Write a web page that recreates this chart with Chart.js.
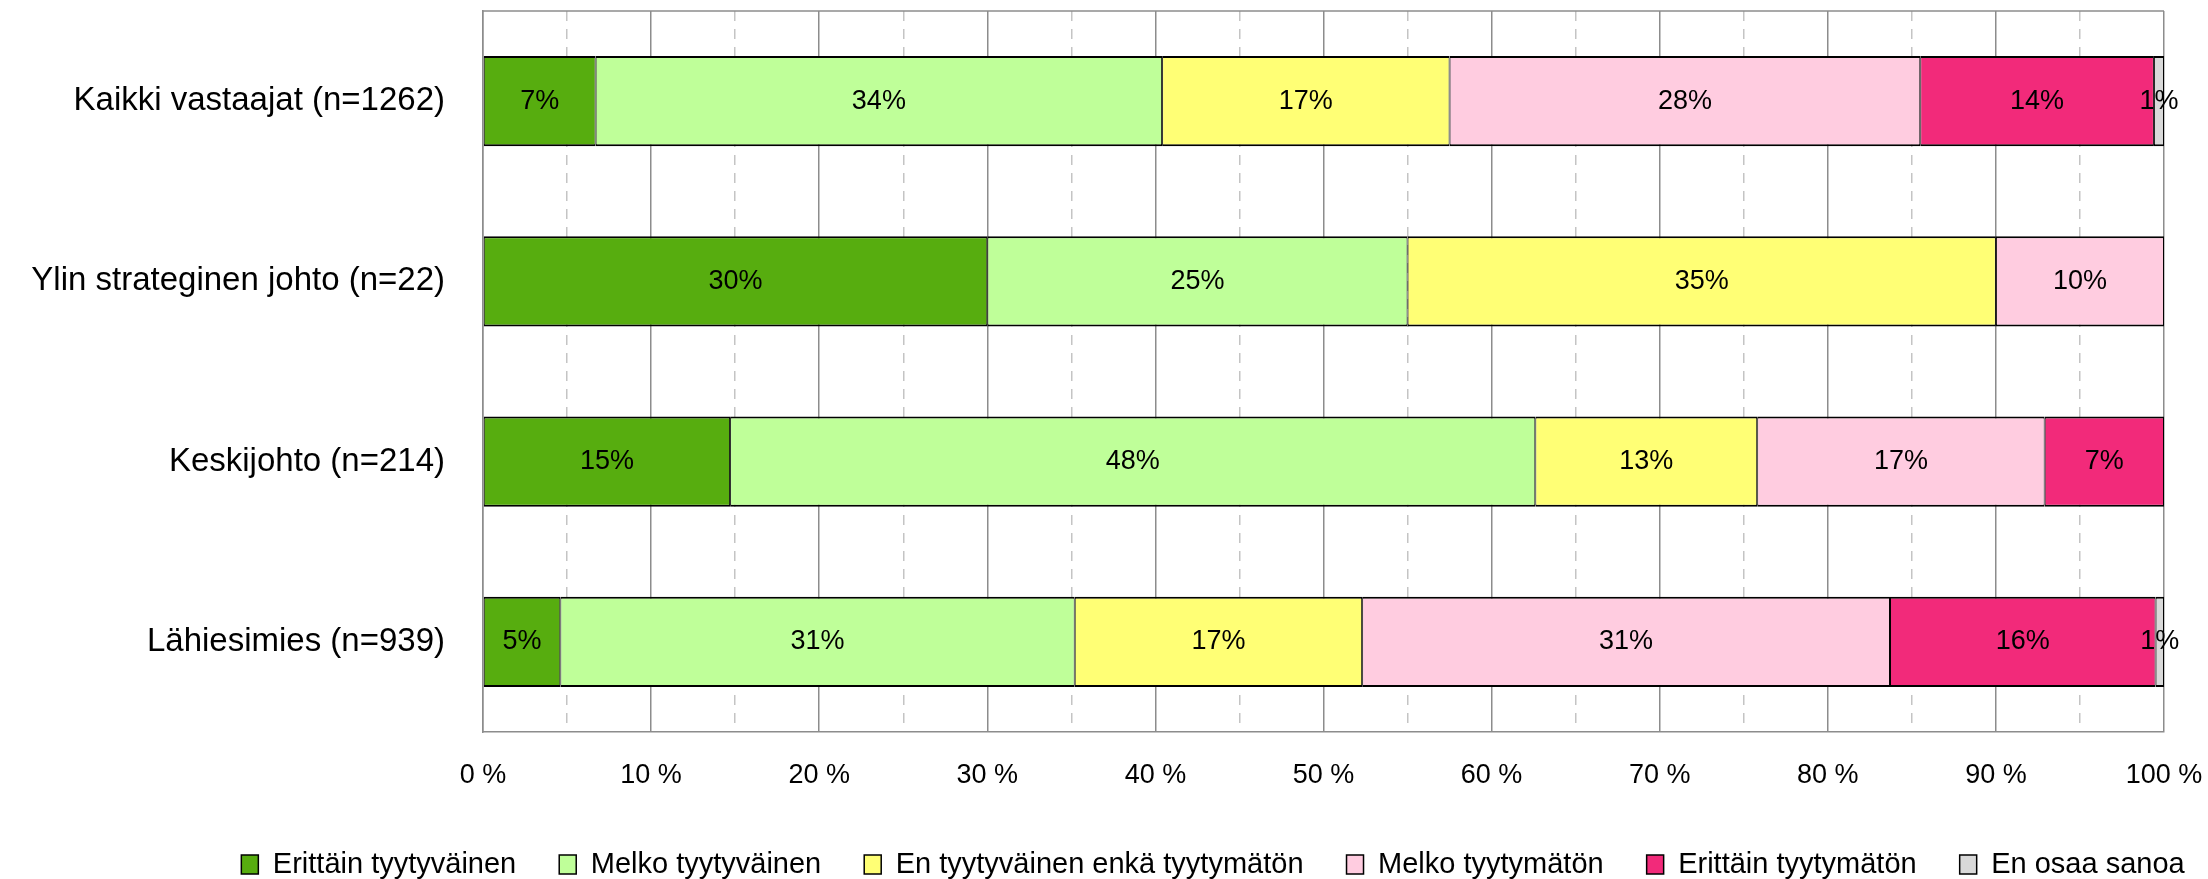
<!DOCTYPE html>
<html>
<head>
<meta charset="utf-8">
<script src="https://cdn.jsdelivr.net/npm/chart.js@4.4.1/dist/chart.umd.min.js"></script>
<style>
  html, body { margin: 0; padding: 0; background: #ffffff; }
  #wrap { width: 2208px; height: 879px; position: relative; }
</style>
</head>
<body>
<div id="wrap"><canvas id="c"></canvas></div>
<script>
// ---- Data ----
const categories = [
  'Kaikki vastaajat (n=1262)',
  'Ylin strateginen johto (n=22)',
  'Keskijohto (n=214)',
  'Lähiesimies (n=939)'
];
const seriesNames = [
  'Erittäin tyytyväinen',
  'Melko tyytyväinen',
  'En tyytyväinen enkä tyytymätön',
  'Melko tyytymätön',
  'Erittäin tyytymätön',
  'En osaa sanoa'
];
const erittainTyytyvainen = [6.7, 30.0, 14.7, 4.6];
const melkoTyytyvainen    = [33.7, 25.0, 47.9, 30.6];
const enTyytyvainenEnka   = [17.1, 35.0, 13.2, 17.1];
const melkoTyytymaton     = [28.0, 10.0, 17.1, 31.4];
const erittainTyytymaton  = [13.9, 0, 7.1, 15.8];
const enOsaaSanoa         = [0.6, 0, 0, 0.5];
const xTickValues = [0, 10, 20, 30, 40, 50, 60, 70, 80, 90, 100];

const seriesValues = [erittainTyytyvainen, melkoTyytyvainen, enTyytyvainenEnka,
                      melkoTyytymaton, erittainTyytymaton, enOsaaSanoa];
const seriesColors = ['#57AD0F', '#BFFF99', '#FFFF75', '#FFCCE0', '#F22A7A', '#D9D9D9'];

const FONT = "'Liberation Sans', Arial, sans-serif";

const datasets = seriesNames.map((name, i) => ({
  label: name,
  data: seriesValues[i],
  backgroundColor: seriesColors[i],
  borderColor: '#000000',
  borderWidth: { top: 2, bottom: 2, left: 1, right: 1 },
  borderSkipped: false,
  barPercentage: 0.5,
  categoryPercentage: 1.0
}));

// value labels inside bars
const valueLabels = {
  id: 'valueLabels',
  afterDatasetsDraw(chart) {
    const ctx = chart.ctx;
    ctx.save();
    ctx.font = '27px ' + FONT;
    ctx.fillStyle = '#000000';
    ctx.textAlign = 'center';
    ctx.textBaseline = 'middle';
    chart.data.datasets.forEach((ds, di) => {
      const meta = chart.getDatasetMeta(di);
      meta.data.forEach((bar, i) => {
        const v = ds.data[i];
        if (!v) return;
        const p = bar.getCenterPoint();
        ctx.fillText(Math.round(v) + '%', p.x, p.y);
      });
    });
    ctx.restore();
  }
};

// top frame line of the plot area
const frameTop = {
  id: 'frameTop',
  beforeDatasetsDraw(chart) {
    const { ctx, chartArea } = chart;
    ctx.save();
    ctx.strokeStyle = '#8c8c8c';
    ctx.lineWidth = 1.5;
    ctx.beginPath();
    ctx.moveTo(chartArea.left, chartArea.top);
    ctx.lineTo(chartArea.right, chartArea.top);
    ctx.stroke();
    ctx.restore();
  }
};

// shift legend horizontally to match reference
const legendShift = {
  id: 'legendShift',
  afterLayout(chart) {
    const l = chart.legend;
    if (l) { l.left += 131; l.right += 131; }
  }
};

function noScalePadding(scale) {
  scale.paddingTop = 0;
  scale.paddingBottom = 0;
  scale.paddingLeft = 0;
  scale.paddingRight = 0;
}

new Chart(document.getElementById('c'), {
  type: 'bar',
  data: { labels: categories, datasets },
  plugins: [valueLabels, frameTop, legendShift],
  options: {
    indexAxis: 'y',
    responsive: true,
    maintainAspectRatio: false,
    animation: false,
    layout: { padding: { top: 11, right: 44, bottom: -10, left: 0 } },
    scales: {
      x: {
        stacked: true,
        min: 0,
        max: 100,
        afterFit(scale) { scale.height = 75; noScalePadding(scale); },
        ticks: {
          stepSize: 5,
          autoSkip: false,
          maxRotation: 0,
          padding: 27,
          color: '#000000',
          font: { family: FONT, size: 27 },
          callback: (v) => xTickValues.includes(v) ? v + ' %' : ''
        },
        grid: {
          drawTicks: false,
          lineWidth: 1.5,
          color: (c) => (c.tick && c.tick.value % 10 !== 0) ? '#c4c4c4' : '#8c8c8c'
        },
        border: {
          display: true,
          color: '#8c8c8c',
          width: 1.5,
          dash: (c) => (c.tick && c.tick.value % 10 !== 0) ? [10, 8] : []
        }
      },
      y: {
        stacked: true,
        afterFit(scale) { scale.width = 483; noScalePadding(scale); },
        ticks: {
          padding: 38,
          color: '#000000',
          font: { family: FONT, size: 33 }
        },
        grid: { display: false, drawTicks: false },
        border: { display: true, color: '#8c8c8c', width: 1.5 }
      }
    },
    plugins: {
      tooltip: { enabled: false },
      legend: {
        position: 'bottom',
        labels: {
          boxWidth: 17,
          boxHeight: 19,
          padding: 43,
          color: '#000000',
          font: { family: FONT, size: 29 }
        }
      }
    }
  }
});
</script>
</body>
</html>
